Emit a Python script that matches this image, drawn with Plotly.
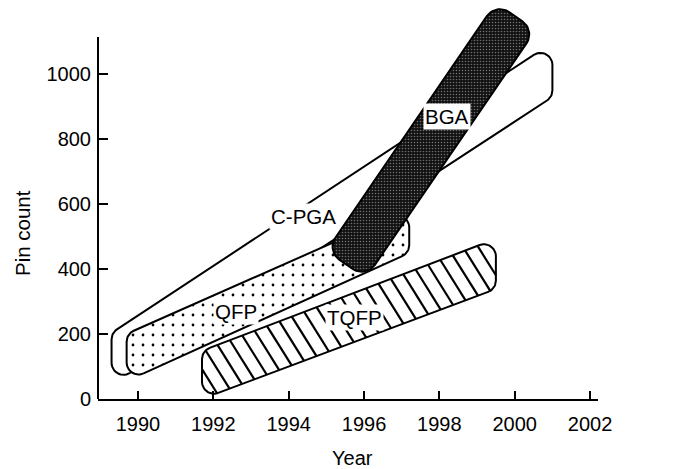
import numpy as np
import plotly.graph_objects as go

# Figure geometry
W, H = 678, 469
M_L, M_R, M_T, M_B = 98, 80, 0, 70
X_RANGE = [1988.94, 2002.21]
Y_RANGE = [0, 1226]

YEAR_TICKS = [1990, 1992, 1994, 1996, 1998, 2000, 2002]
PIN_TICKS = [0, 200, 400, 600, 800, 1000]
Y_AXIS_TOP = 1112

# Package bands: corner points (lower-start, upper-start, upper-end, lower-end)
CPGA_YEARS = [1989.3, 1989.3, 2001.0, 2001.0]
CPGA_PINS = [43, 203, 1095, 928]

QFP_YEARS = [1989.7, 1989.7, 1997.2, 1997.2]
QFP_PINS = [55, 200, 584, 449]

TQFP_YEARS = [1991.7, 1991.7, 1999.5, 1999.5]
TQFP_PINS = [0, 148, 492, 338]

BGA_YEARS = [1995.0, 1999.5, 2000.55, 1996.05]
BGA_PINS = [455, 1217, 1133, 372]

# Band labels
LABELS = ["C-PGA", "QFP", "TQFP", "BGA"]
LABEL_YEARS = [1994.39, 1992.60, 1995.75, 1998.19]
LABEL_PINS = [562, 270, 250, 868]

FONT = "Liberation Sans, Arial, Helvetica, sans-serif"

# pixels per data unit, used so that corner rounding and hatching look even on screen
SX = (W - M_L - M_R) / (X_RANGE[1] - X_RANGE[0])
SY = (H - M_T - M_B) / (Y_RANGE[1] - Y_RANGE[0])


def to_px(years, pins):
    return np.column_stack([(np.asarray(years, float) - X_RANGE[0]) * SX,
                            (np.asarray(pins, float) - Y_RANGE[0]) * SY])


def to_data(pts):
    pts = np.asarray(pts)
    return pts[:, 0] / SX + X_RANGE[0], pts[:, 1] / SY + Y_RANGE[0]


def rounded_outline(years, pins, radius, steps=14):
    """Closed outline of the polygon with every corner rounded (screen pixels)."""
    pts = to_px(years, pins)
    n = len(pts)
    out = []
    for i in range(n):
        p, a, b = pts[i], pts[i - 1], pts[(i + 1) % n]
        la, lb = np.linalg.norm(a - p), np.linalg.norm(b - p)
        u1, u2 = (a - p) / la, (b - p) / lb
        half = np.arccos(np.clip(np.dot(u1, u2), -1, 1)) / 2
        d = min(radius / np.tan(half), 0.45 * min(la, lb))
        r = d * np.tan(half)
        t1 = p + u1 * d
        t2 = p + u2 * d
        bis = (u1 + u2) / np.linalg.norm(u1 + u2)
        c = p + bis * (r / np.sin(half))
        a1 = np.arctan2(*(t1 - c)[::-1])
        a2 = np.arctan2(*(t2 - c)[::-1])
        diff = (a2 - a1 + np.pi) % (2 * np.pi) - np.pi
        for t in np.linspace(0, 1, steps):
            ang = a1 + diff * t
            out.append(c + r * np.array([np.cos(ang), np.sin(ang)]))
    out.append(out[0])
    return np.array(out)


def hatch_segments(outline_px, angle_deg, spacing):
    """Parallel hatch lines clipped to a convex outline (screen pixels, y up)."""
    th = np.radians(angle_deg)
    d = np.array([np.cos(th), -np.sin(th)])   # runs down and to the right
    nrm = np.array([-d[1], d[0]])
    proj = outline_px @ nrm
    xs, ys = [], []
    k0 = np.ceil(proj.min() / spacing)
    k1 = np.floor(proj.max() / spacing)
    for k in np.arange(k0, k1 + 1):
        c = k * spacing
        hits = []
        for p, q in zip(outline_px[:-1], outline_px[1:]):
            sp, sq = p @ nrm - c, q @ nrm - c
            if sp == sq:
                continue
            if (sp <= 0 < sq) or (sq <= 0 < sp):
                t = sp / (sp - sq)
                hits.append(p + (q - p) * t)
        if len(hits) < 2:
            continue
        hits = np.array(hits)
        along = hits @ d
        seg = np.array([hits[along.argmin()], hits[along.argmax()]])
        sx_, sy_ = to_data(seg)
        xs += list(sx_) + [None]
        ys += list(sy_) + [None]
    return xs, ys


fig = go.Figure()

# C-PGA: open white band
cpga = rounded_outline(CPGA_YEARS, CPGA_PINS, 12)
x, y = to_data(cpga)
fig.add_trace(go.Scatter(x=x, y=y, mode="lines", fill="toself", fillcolor="white",
                         line=dict(color="black", width=2)))

# QFP: dotted band
qfp = rounded_outline(QFP_YEARS, QFP_PINS, 12)
x, y = to_data(qfp)
fig.add_trace(go.Scatter(x=x, y=y, mode="lines", fill="toself", fillcolor="white",
                         fillpattern=dict(shape=".", size=10, solidity=0.06,
                                          fgcolor="black", bgcolor="white",
                                          fillmode="replace"),
                         line=dict(color="black", width=2)))

# TQFP: hatched band
tqfp = rounded_outline(TQFP_YEARS, TQFP_PINS, 12)
x, y = to_data(tqfp)
fig.add_trace(go.Scatter(x=x, y=y, mode="lines", fill="toself", fillcolor="white",
                         line=dict(color="black", width=2)))
hx, hy = hatch_segments(tqfp, 58, 13)
fig.add_trace(go.Scatter(x=hx, y=hy, mode="lines", line=dict(color="black", width=2.2)))

# BGA: dark stippled band
bga = rounded_outline(BGA_YEARS, BGA_PINS, 16)
x, y = to_data(bga)
fig.add_trace(go.Scatter(x=x, y=y, mode="lines", fill="toself", fillcolor="#151515",
                         fillpattern=dict(shape=".", size=3, solidity=0.22,
                                          fgcolor="#6e6e6e", bgcolor="#121212",
                                          fillmode="replace"),
                         line=dict(color="black", width=2)))

annotations = []
for lab, lx, ly in zip(LABELS, LABEL_YEARS, LABEL_PINS):
    annotations.append(dict(x=lx, y=ly, xref="x", yref="y", text=lab, showarrow=False,
                            xanchor="center", yanchor="middle",
                            font=dict(family=FONT, size=20.5, color="black"),
                            bgcolor="white", borderpad=1))

annotations.append(dict(x=0.508, y=-0.148, xref="paper", yref="paper", text="Year",
                        xanchor="center", yanchor="middle", showarrow=False,
                        font=dict(family=FONT, size=20, color="black")))
annotations.append(dict(x=-0.152, y=0.416, xref="paper", yref="paper", text="Pin count",
                        xanchor="center", yanchor="middle", textangle=-90,
                        showarrow=False, font=dict(family=FONT, size=20.5, color="black")))

fig.update_layout(
    width=W, height=H,
    margin=dict(l=M_L, r=M_R, t=M_T, b=M_B),
    paper_bgcolor="white", plot_bgcolor="white",
    showlegend=False, hovermode=False,
    annotations=annotations,
    shapes=[dict(type="line", xref="paper", yref="y", x0=0, x1=0, y0=0, y1=Y_AXIS_TOP,
                 line=dict(color="black", width=2))],
    xaxis=dict(range=X_RANGE, showgrid=False, zeroline=False, showline=True,
               linecolor="black", linewidth=2, ticks="inside", ticklen=8, tickwidth=2,
               tickcolor="black", tickvals=YEAR_TICKS, ticklabelstandoff=6,
               tickfont=dict(family=FONT, size=20, color="black")),
    yaxis=dict(range=Y_RANGE, showgrid=False, zeroline=False, showline=False,
               ticks="inside", ticklen=10, tickwidth=2, tickcolor="black",
               tickvals=PIN_TICKS, ticklabelstandoff=6,
               tickfont=dict(family=FONT, size=20, color="black")),
)

fig.write_html("out.html")
